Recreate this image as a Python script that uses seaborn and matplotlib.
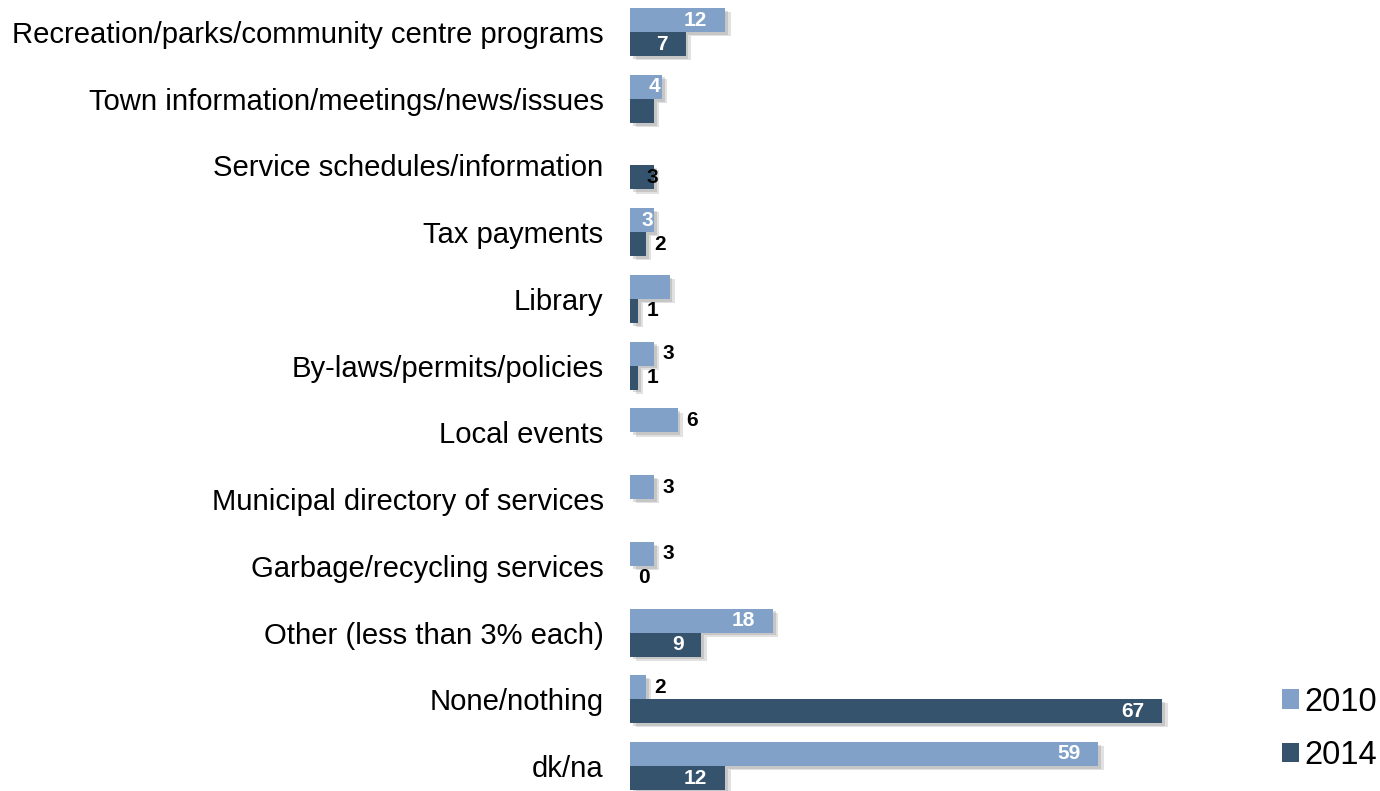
import numpy as np
import pandas as pd
import matplotlib
matplotlib.use("Agg")
import matplotlib.pyplot as plt
import matplotlib.patheffects as pe
from matplotlib.patches import Patch
import seaborn as sns

sns.set_style("white")
plt.rcParams['font.family'] = ['Liberation Sans', 'DejaVu Sans']

# ---------------- data ----------------
categorias = [
    'Recreation/parks/community centre programs',
    'Town information/meetings/news/issues',
    'Service schedules/information',
    'Tax payments',
    'Library',
    'By-laws/permits/policies',
    'Local events',
    'Municipal directory of services',
    'Garbage/recycling services',
    'Other (less than 3% each)',
    'None/nothing',
    'dk/na',
]
anos = ['2010', '2014']
valores_2010 = [12, 4, np.nan, 3, 5, 3, 6, 3, 3, 18, 2, 59]
valores_2014 = [7, 3, 3, 2, 1, 1, np.nan, np.nan, 0, 9, 67, 12]

# how each value label is drawn ('' = not shown in the original)
estilo_2010 = ['in', 'fim', '', 'fim', '', 'out', 'out', 'out', 'out', 'in', 'out', 'in']
estilo_2014 = ['in', '', 'end', 'out', 'out', 'out', '', '', 'out', 'in', 'in', 'in']

cores = {'2010': '#81A1C9', '2014': '#36536D'}

df = pd.DataFrame({
    'Categoria': categorias * 2,
    'Ano': [anos[0]] * len(categorias) + [anos[1]] * len(categorias),
    'Valor': valores_2010 + valores_2014,
})

# ---------------- plot ----------------
fig = plt.figure(figsize=(13.8, 7.91), dpi=100)
ax = fig.add_axes([630 / 1380, 0.0, 620 / 1380, 1.0])

sns.barplot(data=df, y='Categoria', x='Valor', hue='Ano', order=categorias,
            hue_order=anos, palette=cores, width=0.72, orient='h',
            errorbar=None, legend=False, ax=ax, linewidth=0, saturation=1)

# sombra suave à direita/abaixo das barras
sombra = [pe.SimplePatchShadow(offset=(4, -3), shadow_rgbFace='#888888', alpha=0.25),
          pe.SimplePatchShadow(offset=(2, -2), shadow_rgbFace='#777777', alpha=0.25),
          pe.Normal()]
for cont in ax.containers:
    for barra in cont:
        barra.set_path_effects(sombra)

ax.set_xlim(0, 620 / 7.94)
ax.set_ylim(11 + 25 / 66.7, -32 / 66.7)

# (cor, deslocamento em pontos, alinhamento)
formatos = {
    'in': ('white', -13, 'right'),
    'fim': ('white', -5, 'center'),
    'end': ('black', -1, 'center'),
    'out': ('black', 6, 'left'),
}
for cont, vals, estilos in zip(ax.containers, [valores_2010, valores_2014],
                               [estilo_2010, estilo_2014]):
    for barra in cont:
        yc = barra.get_y() + barra.get_height() / 2
        i = int(round(yc))
        v, est = vals[i], estilos[i]
        if est == '' or np.isnan(v):
            continue
        xe = barra.get_x() + barra.get_width()
        cor, dx, alinh = formatos[est]
        ax.annotate(f'{v:.0f}', (xe, yc), xytext=(dx, 0), textcoords='offset points',
                    ha=alinh, va='center', color=cor, fontsize=15,
                    fontweight='bold', annotation_clip=False, clip_on=False)

ax.set_xlabel('')
ax.set_ylabel('')
ax.set_xticks([])
ax.tick_params(axis='y', length=0, pad=19, labelsize=21.1, labelcolor='black')
for lado in ax.spines.values():
    lado.set_visible(False)

handles = [Patch(facecolor=cores[a], edgecolor='none') for a in anos]
fig.legend(handles, anos, loc='center left', bbox_to_anchor=(1282 / 1380, 1 - 729 / 791),
           frameon=False, fontsize=23.5, handlelength=0.52, handleheight=0.52,
           handletextpad=0.18, labelspacing=0.7, borderpad=0, borderaxespad=0,
           labelcolor='black')

fig.savefig('out.png', dpi=100)
plt.close(fig)
